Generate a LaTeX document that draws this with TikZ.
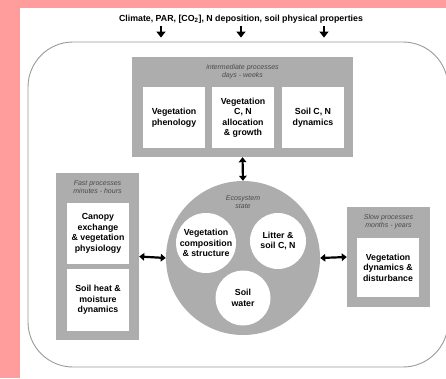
\documentclass[tikz,border=0pt]{standalone}
\usepackage{fontspec}
\setmainfont{Liberation Sans}
\usetikzlibrary{arrows.meta}
\definecolor{pinkbg}{HTML}{FF9C9C}
\definecolor{boxgray}{HTML}{ADADAD}
\definecolor{framegray}{HTML}{9A9A9A}
\definecolor{itgray}{HTML}{4A4A4A}
\tikzset{
  graybox/.style={fill=boxgray,draw=none,inner sep=0pt},
  whitebox/.style={fill=white,draw=none,align=center,inner sep=0pt,
    font=\fontsize{8.8}{10.5}\selectfont\bfseries},
  whitecirc/.style={circle,fill=white,draw=none,align=center,inner sep=0pt,
    font=\fontsize{8.8}{10.5}\selectfont\bfseries},
  itlabel/.style={align=center,inner sep=0pt,text=itgray,
    font=\fontsize{7}{8}\selectfont\itshape},
  downarrow/.style={line width=2.8pt,-{Triangle[length=6pt,width=9pt]}},
  dblarrow/.style={line width=2.2pt,{Triangle[length=5pt,width=7.5pt]}-{Triangle[length=5pt,width=7.5pt]}}
}
\begin{document}
\begin{tikzpicture}[x=1pt,y=-1pt]
\useasboundingbox (0,0) rectangle (446,378);
\clip (0,0) rectangle (446,378);
\fill[white] (0,0) rectangle (446,378);
\fill[pinkbg] (0,0) rectangle (20,378);
\fill[pinkbg] (0,0) rectangle (446,8);

% outer frame
\node[draw=framegray,line width=0.9pt,rounded corners=45pt,minimum width=420pt,minimum height=325pt,inner sep=0pt] (frame) at (238,204.5) {};

% title
\node[font=\fontsize{8.8}{10}\selectfont\bfseries,inner sep=0pt] (title) at (241,19)
  {Climate, PAR, [CO\textsubscript{2}], N deposition, soil physical properties};
\coordinate (a1) at (161,26);
\coordinate (a2) at (241,26);
\coordinate (a3) at (324,26);
\draw[downarrow,shorten >=4pt] (a1) -- (a1 |- frame.north);
\draw[downarrow,shorten >=4pt] (a2) -- (a2 |- frame.north);
\draw[downarrow,shorten >=4pt] (a3) -- (a3 |- frame.north);

% intermediate processes
\node[graybox,minimum width=221pt,minimum height=100pt] (inter) at (242.5,107) {};
\node[itlabel] (interlab) at (242.5,71.5) {intermediate processes\\days - weeks};
\node[whitebox,minimum width=62pt,minimum height=61pt] (phen) at (174,117.5) {Vegetation\\phenology};
\node[whitebox,minimum width=62pt,minimum height=61pt] (alloc) at (243,117.5) {Vegetation\\C, N\\allocation\\\& growth};
\node[whitebox,minimum width=62pt,minimum height=61pt] (soilcn) at (313,117.5) {Soil C, N\\dynamics};

% ecosystem state
\node[circle,fill=boxgray,draw=none,minimum size=154pt,inner sep=0pt] (eco) at (243,258) {};
\node[itlabel] (ecolab) at (243,202) {Ecosystem\\state};
\node[whitecirc,minimum size=60pt] (vegcomp) at (206,243) {Vegetation\\composition\\\& structure};
\node[whitecirc,minimum size=56pt] (litter) at (278,241) {Litter \&\\soil C, N};
\node[whitecirc,minimum size=55pt] (water) at (243,298) {Soil\\water};

% fast processes
\node[graybox,minimum width=83pt,minimum height=167pt] (fast) at (97.5,256.5) {};
\node[itlabel] (fastlab) at (97.5,187.5) {Fast processes\\minutes - hours};
\node[whitebox,minimum width=62pt,minimum height=61pt] (canopy) at (98,233.5) {Canopy\\exchange\\\& vegetation\\physiology};
\node[whitebox,minimum width=62pt,minimum height=62pt] (heat) at (98,300) {Soil heat \&\\moisture\\dynamics};

% slow processes
\node[graybox,minimum width=83pt,minimum height=100pt] (slow) at (388.5,257) {};
\node[itlabel] (slowlab) at (388.5,221.5) {Slow processes\\months - years};
\node[whitebox,minimum width=62pt,minimum height=59pt] (vegdyn) at (388,267.5) {Vegetation\\dynamics \&\\disturbance};

% connectors
\draw[dblarrow] (inter.south) -- (eco.north);
\draw[dblarrow] (fast.east) -- (eco.west);
\draw[dblarrow] (eco.east) -- (slow.west);
\end{tikzpicture}
\end{document}
